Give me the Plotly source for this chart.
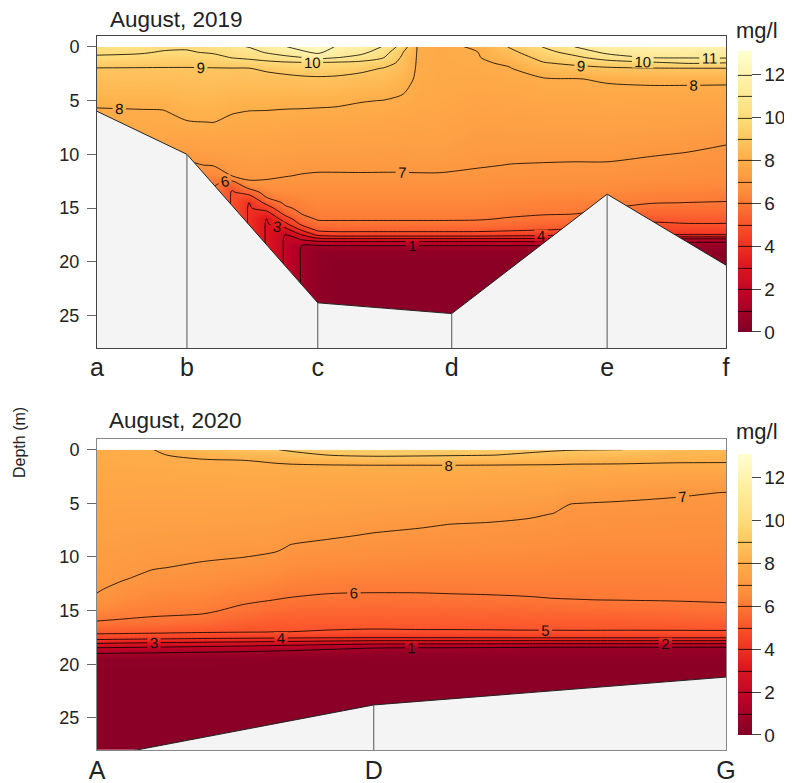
import numpy as np
import plotly.graph_objects as go

# ---------------- 2019 transect (stations a..f) ----------------
STATIONS_19 = ["a", "b", "c", "d", "e", "f"]
STATION_X_19 = [0.0, 1.43, 3.51, 5.64, 8.11, 10.0]
BOTTOM_19 = [6.0, 10.0, 23.8, 24.8, 13.7, 20.3]

GRID_X_19 = [0, 0.7, 1.05, 1.43, 1.85, 2.15, 2.42, 2.7, 2.99, 3.26, 3.51, 3.8, 4.2,
             4.55, 4.85, 5.1, 5.45, 6.05, 6.55, 7.1, 7.6, 8.11, 8.8, 9.4, 10.0]
DEPTH_19 = [0, 0.5, 1, 1.5, 2, 3, 4, 5, 6, 7, 8, 9, 10, 11, 12, 12.5, 13, 13.5, 14,
            14.5, 15, 15.5, 16, 16.5, 17, 17.5, 18, 18.5, 19, 20, 22, 25, 28]

# dissolved oxygen (mg/l) profiles, one list per grid column
DO_19 = [
    [10.3, 10.13, 9.9, 9.4, 8.97, 8.71, 8.47, 8.22, 7.9, 7.8, 7.8, 7.8, 7.8, 7.8, 7.8, 7.8, 7.8,
     7.8, 7.8, 7.8, 7.8, 7.8, 7.8, 7.8, 7.8, 7.8, 7.8, 7.8, 7.8, 7.8, 7.8, 7.8, 7.8],
    [10.4, 10.11, 9.74, 9.3, 8.96, 8.72, 8.47, 8.22, 7.95, 7.85, 7.8, 7.8, 7.8, 7.8, 7.8, 7.8, 7.8,
     7.8, 7.8, 7.8, 7.8, 7.8, 7.8, 7.8, 7.8, 7.8, 7.8, 7.8, 7.8, 7.8, 7.8, 7.8, 7.8],
    [10.2, 9.93, 9.59, 9.23, 8.96, 8.71, 8.47, 8.22, 7.97, 7.85, 7.75, 7.6, 7.5, 7.5, 7.5, 7.5, 7.5,
     7.5, 7.5, 7.5, 7.5, 7.5, 7.5, 7.5, 7.5, 7.5, 7.5, 7.5, 7.5, 7.5, 7.5, 7.5, 7.5],
    [10.1, 9.93, 9.57, 9.21, 8.96, 8.76, 8.57, 8.37, 8.18, 7.97, 7.72, 7.46, 7.2, 6.9, 6.9, 6.9, 6.9,
     6.9, 6.9, 6.9, 6.9, 6.9, 6.9, 6.9, 6.9, 6.9, 6.9, 6.9, 6.9, 6.9, 6.9, 6.9, 6.9],
    [10.4, 10.11, 9.74, 9.3, 8.97, 8.78, 8.59, 8.39, 8.2, 8.01, 7.77, 7.54, 7.3, 7.06, 6.25, 6.07,
     6.05, 6.05, 6.05, 6.05, 6.05, 6.05, 6.05, 6.05, 6.05, 6.05, 6.05, 6.05, 6.05, 6.05, 6.05, 6.05, 6.05],
    [10.8, 10.42, 10.04, 9.47, 8.98, 8.74, 8.51, 8.28, 8.05, 7.86, 7.69, 7.52, 7.34, 7.17, 7.01, 5.95,
     5.2, 4.92, 4.9, 4.9, 4.9, 4.9, 4.9, 4.9, 4.9, 4.9, 4.9, 4.9, 4.9, 4.9, 4.9, 4.9, 4.9],
    [11.05, 10.64, 10.18, 9.63, 8.99, 8.75, 8.5, 8.25, 7.99, 7.85, 7.69, 7.54, 7.38, 7.23, 7.08, 6.98,
     6.35, 5.5, 4.6, 3.95, 3.9, 3.9, 3.9, 3.9, 3.9, 3.9, 3.9, 3.9, 3.9, 3.9, 3.9, 3.9, 3.9],
    [11.4, 11.11, 10.47, 9.72, 9.12, 8.76, 8.49, 8.23, 7.98, 7.82, 7.67, 7.52, 7.37, 7.21, 7.06, 6.97,
     6.7, 6.4, 6.02, 5.3, 4.5, 3.6, 2.95, 2.9, 2.9, 2.9, 2.9, 2.9, 2.9, 2.9, 2.9, 2.9, 2.9],
    [11.95, 11.42, 10.78, 9.83, 9.28, 8.78, 8.49, 8.2, 7.95, 7.8, 7.64, 7.48, 7.33, 7.17, 7.02, 6.9,
     6.75, 6.55, 6.35, 6.15, 5.85, 5.3, 4.5, 3.7, 2.6, 1.95, 1.9, 1.9, 1.9, 1.9, 1.9, 1.9, 1.9],
    [12.4, 11.83, 10.98, 9.89, 9.42, 8.83, 8.51, 8.19, 7.94, 7.77, 7.61, 7.45, 7.29, 7.13, 6.97, 6.85,
     6.72, 6.6, 6.45, 6.3, 6.2, 6.05, 5.7, 5.2, 4.2, 2.98, 1.9, 0.95, 0.9, 0.9, 0.9, 0.9, 0.9],
    [12.5, 12.22, 11.33, 9.88, 9.48, 8.86, 8.52, 8.17, 7.92, 7.76, 7.59, 7.43, 7.27, 7.1, 6.95, 6.85,
     6.75, 6.62, 6.5, 6.4, 6.3, 6.2, 6.08, 5.75, 5.25, 4.15, 2.2, 0.9, 0.5, 0.45, 0.45, 0.45, 0.45],
    [11.95, 11.5, 11.05, 9.83, 9.42, 8.83, 8.48, 8.14, 7.9, 7.74, 7.58, 7.42, 7.26, 7.1,
     6.95, 6.85, 6.75, 6.62, 6.5, 6.4, 6.3, 6.2, 6.08, 5.8, 5.35, 4.4, 2.3, 0.98, 0.5, 0.35, 0.3, 0.3, 0.3],
    [11.6, 11.27, 10.67, 9.7, 9.2, 8.72, 8.38, 8.03, 7.86, 7.71, 7.56, 7.41, 7.26, 7.11,
     6.95, 6.85, 6.75, 6.62, 6.5, 6.4, 6.3, 6.2, 6.08, 5.8, 5.35, 4.4, 2.3, 0.98, 0.5, 0.35, 0.3, 0.3, 0.3],
    [10.95, 10.5, 10.05, 9.47, 8.97, 8.63, 8.3, 7.99, 7.84, 7.69, 7.54, 7.4, 7.25, 7.1,
     6.95, 6.85, 6.75, 6.62, 6.5, 6.4, 6.3, 6.2, 6.08, 5.8, 5.35, 4.4, 2.3, 0.98, 0.5, 0.35, 0.3, 0.3, 0.3],
    [9.6, 9.1, 8.89, 8.76, 8.62, 8.35, 8.08, 7.91, 7.77, 7.64, 7.5, 7.37, 7.23, 7.1,
     6.95, 6.85, 6.75, 6.62, 6.5, 6.4, 6.3, 6.2, 6.08, 5.8, 5.35, 4.4, 2.3, 0.98, 0.5, 0.35, 0.3, 0.3, 0.3],
    [7.92, 7.92, 7.91, 7.9, 7.89, 7.86, 7.83, 7.78, 7.7, 7.6, 7.5, 7.4, 7.28, 7.12,
     6.95, 6.85, 6.75, 6.62, 6.5, 6.4, 6.3, 6.2, 6.08, 5.8, 5.35, 4.4, 2.3, 0.98, 0.5, 0.35, 0.3, 0.3, 0.3],
    [7.82, 7.83, 7.83, 7.83, 7.82, 7.8, 7.78, 7.74, 7.67, 7.58, 7.48, 7.38, 7.27, 7.12,
     6.95, 6.85, 6.75, 6.62, 6.5, 6.4, 6.3, 6.2, 6.08, 5.8, 5.35, 4.4, 2.3, 0.98, 0.5, 0.35, 0.3, 0.3, 0.3],
    [8.1, 7.99, 7.95, 7.9, 7.86, 7.78, 7.7, 7.6, 7.5, 7.4, 7.3, 7.2, 7.12, 7.04,
     6.9, 6.82, 6.73, 6.62, 6.5, 6.4, 6.3, 6.2, 6.06, 5.78, 5.33, 4.4, 2.3, 0.98, 0.5, 0.35, 0.3, 0.3, 0.3],
    [9.05, 8.74, 8.42, 8.1, 7.96, 7.85, 7.75, 7.64, 7.53, 7.42, 7.31, 7.21, 7.1, 6.99, 6.85, 6.75,
     6.65, 6.55, 6.45, 6.35, 6.25, 6.12, 5.95, 5.65, 5.2, 4.3, 2.3, 0.98, 0.5, 0.35, 0.3, 0.3, 0.3],
    [10.05, 9.68, 9.32, 8.95, 8.48, 7.94, 7.82, 7.7, 7.58, 7.46, 7.34, 7.22, 7.1, 6.97, 6.83, 6.73,
     6.63, 6.53, 6.42, 6.3, 6.18, 6.05, 5.85, 5.5, 5.05, 4.2, 2.3, 0.98, 0.5, 0.35, 0.3, 0.3, 0.3],
    [11.02, 10.38, 9.78, 9.22, 8.73, 7.97, 7.85, 7.72, 7.59, 7.47, 7.34, 7.22, 7.09, 6.96, 6.82, 6.72,
     6.62, 6.5, 6.4, 6.28, 6.15, 6.02, 5.8, 5.4, 4.9, 3.98, 2.2, 0.98, 0.5, 0.35, 0.3, 0.3, 0.3],
    [11.6, 11.25, 10.5, 9.5, 8.88, 8.08, 7.88, 7.75, 7.62, 7.49, 7.36, 7.22, 7.09, 6.96, 6.82, 6.72,
     6.6, 6.48, 6.35, 6.2, 6.02, 5.8, 5.45, 4.98, 4.4, 3.5, 1.98, 0.98, 0.5, 0.35, 0.3, 0.3, 0.3],
    [11.85, 11.45, 11.04, 9.82, 8.96, 8.16, 7.89, 7.74, 7.6, 7.46, 7.31, 7.17, 7.03, 6.88, 6.72, 6.62,
     6.5, 6.35, 6.2, 6.03, 5.8, 5.5, 5.15, 4.9, 4.5, 3.95, 1.2, 0.6, 0.45, 0.35, 0.3, 0.3, 0.3],
    [11.9, 11.49, 11.08, 10.11, 8.99, 8.17, 7.88, 7.72, 7.57, 7.42, 7.26, 7.11, 6.97, 6.82, 6.66, 6.57,
     6.45, 6.3, 6.15, 5.99, 5.8, 5.55, 5.25, 4.95, 4.55, 3.95, 1.2, 0.6, 0.45, 0.35, 0.3, 0.3, 0.3],
    [11.95, 11.54, 11.12, 9.99, 8.99, 8.17, 7.86, 7.69, 7.53, 7.36, 7.19, 7.02, 6.87, 6.74, 6.6, 6.5,
     6.4, 6.25, 6.1, 5.97, 5.78, 5.55, 5.25, 4.95, 4.55, 3.95, 1.2, 0.6, 0.45, 0.35, 0.3, 0.3, 0.3],
]

# ---------------- 2020 transect (stations A, D, G) ----------------
STATIONS_20 = ["A", "D", "G"]
STATION_X_20 = [0.0, 4.40, 10.0]
BOTTOM_20 = [28.7, 23.8, 21.2]

GRID_X_20 = [0, 0.41, 0.89, 1.68, 2.31, 2.86, 3.07, 3.70, 4.40, 5.14, 5.61, 6.25, 6.88,
             7.25, 7.52, 8.31, 9.16, 10.0]
DEPTH_20 = [0, 0.5, 1, 1.5, 2, 3, 4, 5, 6, 7, 8, 9, 10, 11, 12, 13, 14, 15, 16, 16.5,
            17, 17.5, 18, 18.5, 19, 19.5, 20, 22, 25, 28]

DO_20 = [
    [7.9, 7.87, 7.83, 7.8, 7.77, 7.7, 7.64, 7.57, 7.51, 7.44, 7.38, 7.31, 7.25, 7.18, 7.12, 7.05,
     6.91, 6.45, 5.99, 5.62, 5.23, 4.56, 3.17, 1.91, 0.99, 0.45, 0.38, 0.3, 0.3, 0.3],
    [7.95, 7.91, 7.87, 7.84, 7.8, 7.72, 7.65, 7.57, 7.49, 7.42, 7.34, 7.27, 7.19, 7.11, 7.04, 6.85,
     6.56, 6.26, 5.93, 5.56, 5.2, 4.49, 3.07, 1.86, 0.95, 0.45, 0.38, 0.3, 0.3, 0.3],
    [7.99, 7.95, 7.9, 7.86, 7.82, 7.73, 7.64, 7.56, 7.47, 7.38, 7.3, 7.21, 7.12, 7.03, 6.86, 6.64,
     6.41, 6.18, 5.86, 5.51, 5.16, 4.43, 2.99, 1.8, 0.9, 0.45, 0.38, 0.3, 0.3, 0.3],
    [8.55, 8.13, 7.96, 7.91, 7.86, 7.76, 7.66, 7.56, 7.46, 7.36, 7.26, 7.16, 7.06, 6.92, 6.72, 6.52,
     6.32, 6.12, 5.73, 5.4, 5.07, 4.3, 2.87, 1.64, 0.8, 0.42, 0.37, 0.3, 0.3, 0.3],
    [8.85, 8.43, 7.99, 7.95, 7.89, 7.78, 7.67, 7.56, 7.45, 7.34, 7.23, 7.12, 7.01, 6.8, 6.58, 6.36,
     6.13, 5.84, 5.43, 5.22, 5.02, 4.24, 2.77, 1.53, 0.75, 0.42, 0.36, 0.3, 0.3, 0.3],
    [8.98, 8.52, 8.06, 7.95, 7.89, 7.78, 7.66, 7.54, 7.43, 7.31, 7.19, 7.08, 6.92, 6.69, 6.46, 6.23,
     5.99, 5.67, 5.33, 5.17, 4.99, 4.19, 2.66, 1.36, 0.68, 0.41, 0.36, 0.3, 0.3, 0.3],
    [9.1, 8.75, 8.11, 7.95, 7.88, 7.76, 7.63, 7.5, 7.37, 7.24, 7.12, 6.98, 6.78, 6.58, 6.37, 6.17,
     5.95, 5.63, 5.32, 5.16, 4.99, 4.18, 2.62, 1.31, 0.66, 0.41, 0.36, 0.3, 0.3, 0.3],
    [9.3, 9.02, 8.25, 7.95, 7.88, 7.74, 7.61, 7.47, 7.33, 7.19, 7.06, 6.88, 6.69, 6.49, 6.29, 6.1,
     5.86, 5.57, 5.28, 5.13, 4.92, 4.13, 2.47, 1.13, 0.6, 0.4, 0.35, 0.3, 0.3, 0.3],
    [9.4, 9.16, 8.42, 7.95, 7.88, 7.73, 7.58, 7.42, 7.27, 7.12, 6.96, 6.79, 6.62, 6.43, 6.26, 6.08,
     5.84, 5.55, 5.26, 5.12, 4.85, 4.08, 2.33, 0.99, 0.5, 0.4, 0.35, 0.3, 0.3, 0.3],
    [9.35, 9.12, 8.4, 7.95, 7.87, 7.71, 7.54, 7.38, 7.21, 7.05, 6.89, 6.73, 6.56, 6.4, 6.24, 6.08,
     5.85, 5.56, 5.27, 5.13, 4.89, 4.1, 2.31, 0.9, 0.5, 0.4, 0.35, 0.3, 0.3, 0.3],
    [9.3, 9.08, 8.38, 7.96, 7.87, 7.7, 7.52, 7.35, 7.17, 6.99, 6.85, 6.7, 6.55, 6.39, 6.24, 6.09,
     5.88, 5.58, 5.28, 5.13, 4.89, 4.1, 2.31, 0.9, 0.5, 0.4, 0.35, 0.3, 0.3, 0.3],
    [9.25, 9.02, 8.34, 7.95, 7.86, 7.68, 7.49, 7.31, 7.13, 6.96, 6.81, 6.67, 6.53, 6.39, 6.24, 6.1,
     5.91, 5.6, 5.29, 5.14, 4.9, 4.12, 2.29, 0.85, 0.5, 0.4, 0.35, 0.3, 0.3, 0.3],
    [9.15, 8.88, 8.27, 7.94, 7.85, 7.66, 7.45, 7.26, 7.06, 6.91, 6.77, 6.64, 6.51, 6.38, 6.25, 6.11,
     5.95, 5.63, 5.31, 5.15, 4.92, 4.15, 2.26, 0.8, 0.5, 0.4, 0.35, 0.3, 0.3, 0.3],
    [9.08, 8.78, 8.22, 7.94, 7.83, 7.62, 7.4, 7.19, 6.99, 6.86, 6.74, 6.61, 6.49, 6.37, 6.24, 6.12,
     5.98, 5.65, 5.32, 5.15, 4.92, 4.15, 2.26, 0.75, 0.5, 0.4, 0.35, 0.3, 0.3, 0.3],
    [9.04, 8.68, 8.19, 7.92, 7.79, 7.53, 7.27, 7.01, 6.89, 6.78, 6.67, 6.56, 6.45, 6.34, 6.22, 6.11,
     5.99, 5.66, 5.33, 5.17, 4.92, 4.15, 2.26, 0.75, 0.5, 0.4, 0.35, 0.3, 0.3, 0.3],
    [9.02, 8.6, 8.16, 7.91, 7.76, 7.46, 7.18, 6.96, 6.85, 6.75, 6.64, 6.54, 6.43, 6.33, 6.22, 6.12,
     6.01, 5.68, 5.33, 5.16, 4.92, 4.15, 2.26, 0.75, 0.5, 0.4, 0.35, 0.3, 0.3, 0.3],
    [8.6, 8.35, 8.09, 7.89, 7.73, 7.4, 7.07, 6.92, 6.82, 6.72, 6.63, 6.53, 6.43, 6.33, 6.23, 6.13,
     6.03, 5.75, 5.37, 5.17, 4.92, 4.15, 2.26, 0.75, 0.5, 0.4, 0.35, 0.3, 0.3, 0.3],
    [8.5, 8.29, 8.08, 7.88, 7.71, 7.33, 6.99, 6.9, 6.8, 6.71, 6.62, 6.52, 6.43, 6.34, 6.24, 6.15,
     6.06, 5.83, 5.4, 5.19, 4.92, 4.15, 2.26, 0.75, 0.5, 0.4, 0.35, 0.3, 0.3, 0.3],
]

CBAR_TICKS = [0, 2, 4, 6, 8, 10, 12]
DEPTH_TICKS = [0, 5, 10, 15, 20, 25]

YLORRD = [[0.0, "#800026"], [0.125, "#bd0026"], [0.25, "#e31a1c"], [0.375, "#fc4e2a"],
          [0.5, "#fd8d3c"], [0.625, "#feb24c"], [0.75, "#fed976"], [0.875, "#ffeda0"],
          [1.0, "#ffffcc"]]

FONT = "Liberation Sans, Arial, sans-serif"
LAND = "#f4f4f4"

fig = go.Figure()


def add_panel(xg, depth, cols, levels_end, xa, ya, cb_y, st_x, bottom):
    z = np.array(cols, dtype=float).T
    fig.add_trace(go.Contour(
        x=xg, y=depth, z=z, xaxis=xa, yaxis=ya,
        colorscale=YLORRD, zauto=False, zmin=0, zmax=13.1,
        contours=dict(start=1, end=levels_end, size=1, coloring="heatmap",
                      showlabels=True,
                      labelfont=dict(size=15, color="#111", family=FONT)),
        line=dict(color="black", width=0.8, smoothing=0.8),
        hoverinfo="skip",
        colorbar=dict(x=1.019, xanchor="left", xpad=0, y=cb_y, yanchor="top", ypad=0,
                      len=281, lenmode="pixels", thickness=14, thicknessmode="pixels",
                      outlinewidth=0, tickvals=CBAR_TICKS, ticks="outside", ticklen=9,
                      tickcolor="#444", tickfont=dict(size=19, color="#222", family=FONT)),
    ))
    # sea floor (land) mask
    fig.add_trace(go.Scatter(
        x=list(st_x) + [st_x[-1], st_x[0], st_x[0]],
        y=list(bottom) + [30, 30, bottom[0]],
        xaxis=xa, yaxis=ya, mode="lines", fill="toself", fillcolor=LAND,
        line=dict(width=0, color=LAND), hoverinfo="skip", showlegend=False))
    fig.add_trace(go.Scatter(
        x=st_x, y=bottom, xaxis=xa, yaxis=ya, mode="lines",
        line=dict(color="#222", width=1), hoverinfo="skip", showlegend=False))
    vx, vy = [], []
    for sx, sb in zip(st_x[1:-1], bottom[1:-1]):
        vx += [sx, sx, None]
        vy += [sb, 28, None]
    fig.add_trace(go.Scatter(
        x=vx, y=vy, xaxis=xa, yaxis=ya, mode="lines",
        line=dict(color="#555", width=1), hoverinfo="skip", showlegend=False))


add_panel(GRID_X_19, DEPTH_19, DO_19, 12, "x", "y", 0.979, STATION_X_19, BOTTOM_19)
add_panel(GRID_X_20, DEPTH_20, DO_20, 9, "x2", "y2", 0.4146, STATION_X_20, BOTTOM_20)

yax = dict(range=[28, -1], tickvals=DEPTH_TICKS, ticks="outside", ticklen=9,
           tickcolor="#666", tickfont=dict(size=18, color="#222", family=FONT),
           showgrid=False, zeroline=False, showline=True, mirror=True,
           ticklabelstandoff=4, automargin=False)

xax = dict(range=[0, 10], ticks="", tickfont=dict(size=25, color="#222", family=FONT),
           showgrid=False, zeroline=False, showline=True, mirror=True, automargin=False)

# the page adds an 8 px body margin, so the figure is 8 px smaller on each axis
fig.update_layout(
    width=784, height=775,
    margin=dict(l=89, r=66, t=28, b=33, autoexpand=False),
    paper_bgcolor="white", plot_bgcolor="white",
    showlegend=False,
    font=dict(family=FONT, color="#222"),
    xaxis=dict(domain=[0, 1], anchor="y", tickvals=STATION_X_19, ticktext=STATIONS_19,
               ticklabelstandoff=-3, linecolor="#444", **xax),
    yaxis=dict(domain=[0.563, 1], anchor="x", linecolor="#444", **yax),
    xaxis2=dict(domain=[0, 1], anchor="y2", tickvals=STATION_X_20, ticktext=STATIONS_20,
                ticklabelstandoff=-2, linecolor="#888", **xax),
    yaxis2=dict(domain=[0, 0.4356], anchor="x2", linecolor="#888", **yax),
    annotations=[
        dict(text="August, 2019", x=0.0175, y=1.0238, xref="paper", yref="paper",
             xanchor="left", yanchor="middle", showarrow=False,
             font=dict(size=22.5, color="#222", family=FONT)),
        dict(text="August, 2020", x=0.016, y=0.4608, xref="paper", yref="paper",
             xanchor="left", yanchor="middle", showarrow=False,
             font=dict(size=22.5, color="#222", family=FONT)),
        dict(text="mg/l", x=1.0493, y=1.0084, xref="paper", yref="paper",
             xanchor="center", yanchor="middle", showarrow=False,
             font=dict(size=22, color="#222", family=FONT)),
        dict(text="mg/l", x=1.0493, y=0.4454, xref="paper", yref="paper",
             xanchor="center", yanchor="middle", showarrow=False,
             font=dict(size=22, color="#222", family=FONT)),
        dict(text="Depth (m)", x=-0.1224, y=0.43, xref="paper", yref="paper",
             xanchor="center", yanchor="middle", showarrow=False, textangle=-90,
             font=dict(size=16, color="#222", family=FONT)),
    ],
)

fig.write_html("out.html")
